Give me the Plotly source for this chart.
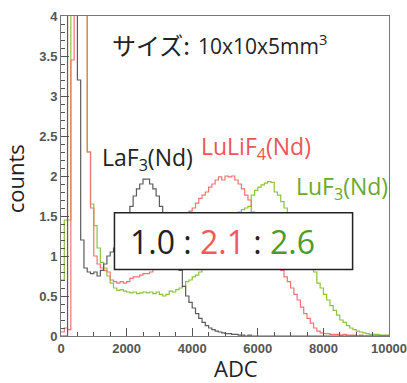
import plotly.graph_objects as go

bin_width = 100
bin_starts = [i * bin_width for i in range(100)]

laf3 = [0.0, 0.0, 5.0, 8.0, 8.0, 3.2, 1.2, 0.85, 0.8, 0.78,
        0.8, 0.75, 0.82, 0.9, 1.0, 1.05, 1.1, 1.2, 1.3, 1.4,
        1.5, 1.62, 1.75, 1.84, 1.9, 1.96, 1.96, 1.9, 1.84, 1.75,
        1.62, 1.5, 1.38, 1.25, 1.1, 0.95, 0.82, 0.62, 0.5, 0.42,
        0.35, 0.28, 0.22, 0.17, 0.13, 0.1, 0.08, 0.06, 0.05, 0.04,
        0.03, 0.03, 0.02, 0.02, 0.01, 0.01, 0.0, 0.01, 0.0, 0.0] + [0.0] * 40

lulif4 = [0.05, 0.1, 0.08, 3.45, 8.0, 8.0, 8.0, 8.0, 2.3, 1.6,
          1.0, 0.9, 0.85, 0.82, 0.8, 0.7, 0.68, 0.66, 0.68, 0.66,
          0.68, 0.72, 0.74, 0.74, 0.76, 0.78, 0.78, 0.8, 0.88, 0.95,
          1.02, 1.1, 1.18, 1.25, 1.3, 1.38, 1.42, 1.48, 1.52, 1.56,
          1.6, 1.66, 1.72, 1.76, 1.8, 1.86, 1.9, 1.95, 1.99, 1.95,
          2.0, 1.99, 2.0, 1.95, 1.9, 1.84, 1.76, 1.7, 1.55, 1.45,
          1.35, 1.25, 1.15, 1.05, 0.98, 0.92, 0.86, 0.82, 0.74, 0.68,
          0.6, 0.52, 0.45, 0.36, 0.28, 0.22, 0.16, 0.1, 0.06, 0.04,
          0.03, 0.03, 0.02, 0.02, 0.02, 0.01, 0.02, 0.01, 0.01, 0.01,
          0.0, 0.01, 0.0, 0.0, 0.0, 0.0, 0.0, 0.0, 0.0, 0.0]

luf3 = [0.7, 1.45, 1.45, 8.0, 8.0, 8.0, 8.0, 8.0, 2.3, 1.65,
        1.38, 1.1, 0.92, 0.85, 0.75, 0.66, 0.6, 0.57, 0.58, 0.56,
        0.55, 0.54, 0.55, 0.53, 0.54, 0.55, 0.54, 0.55, 0.53, 0.55,
        0.52, 0.5, 0.52, 0.56, 0.55, 0.58, 0.6, 0.62, 0.68, 0.7,
        0.74, 0.76, 0.8, 0.85, 0.9, 0.98, 1.05, 1.12, 1.2, 1.28,
        1.35, 1.42, 1.48, 1.5, 1.55, 1.58, 1.6, 1.62, 1.76, 1.82,
        1.86, 1.89, 1.91, 1.93, 1.92, 1.8, 1.76, 1.68, 1.6, 1.54,
        1.45, 1.35, 1.25, 1.15, 1.05, 0.95, 0.88, 0.8, 0.66, 0.6,
        0.52, 0.45, 0.38, 0.32, 0.26, 0.2, 0.17, 0.13, 0.1, 0.08,
        0.06, 0.05, 0.04, 0.03, 0.02, 0.02, 0.02, 0.01, 0.01, 0.01]

series_names = ["LaF3(Nd)", "LuLiF4(Nd)", "LuF3(Nd)"]
ratios = ["1.0", "2.1", "2.6"]
x_ticks = [0, 2000, 4000, 6000, 8000, 10000]
x_ticktext = ["0", "2000", "4000", "6000", "8000", "10000"]
y_ticks = [0, 0.5, 1, 1.5, 2, 2.5, 3, 3.5, 4]
y_ticktext = ["0", "0.5", "1", "1.5", "2", "2.5", "3", "3.5", "4"]

fig = go.Figure()

def step(vals):
    xs = bin_starts + [bin_starts[-1] + bin_width]
    ys = vals + [vals[-1]]
    return xs, ys

for vals, col, name in [(luf3, "#8cc43a", series_names[2]),
                        (lulif4, "#f27373", series_names[1]),
                        (laf3, "#5c5c5c", series_names[0])]:
    xs, ys = step(vals)
    fig.add_trace(go.Scatter(x=xs, y=ys, mode="lines", line_shape="hv",
                             line=dict(color=col, width=1.2), name=name,
                             showlegend=False, hoverinfo="skip"))

tickfont = dict(family="Liberation Sans", size=13, color="#555", weight="bold")
fig.update_layout(
    width=407, height=383,
    margin=dict(l=61, r=18, t=16, b=47, autoexpand=False),
    paper_bgcolor="white", plot_bgcolor="white",
    showlegend=False,
    xaxis=dict(range=[0, 10000], tickvals=x_ticks, ticktext=x_ticktext,
               ticks="inside", ticklen=8, tickcolor="#555", showgrid=False,
               zeroline=False, showline=True, mirror=True, linecolor="#777",
               linewidth=1, ticklabeloverflow="allow", automargin=False,
               minor=dict(dtick=500, ticks="inside", ticklen=4, tickcolor="#555"),
               tickfont=tickfont),
    yaxis=dict(range=[0, 4], tickvals=y_ticks, ticktext=y_ticktext,
               ticks="inside", ticklen=8, tickcolor="#555", showgrid=False,
               zeroline=False, showline=True, mirror=True, linecolor="#777",
               linewidth=1, automargin=False,
               minor=dict(dtick=0.1, ticks="inside", ticklen=4, tickcolor="#555"),
               tickfont=tickfont),
)

# ratio box
fig.add_shape(type="rect", xref="x", yref="y", x0=1630, x1=8890, y0=0.83, y1=1.54,
              fillcolor="white", line=dict(color="#222", width=1.5), layer="above")
fig.add_annotation(xref="x", yref="y", x=4910, y=(0.83 + 1.54) / 2,
                   xanchor="center", yanchor="middle",
                   text=f"{ratios[0]} : <span style='color:#f05a5a'>{ratios[1]}</span> : "
                        f"<span style='color:#4f9a2e'>{ratios[2]}</span>",
                   showarrow=False, font=dict(family="Open Sans", size=32, color="#222"))

# title
fig.add_annotation(xref="paper", yref="paper", x=0.148, y=0.91, xanchor="left",
                   yanchor="middle", text="サイズ:", showarrow=False,
                   font=dict(family="Noto Sans CJK JP", size=24, color="#222"))
fig.add_annotation(xref="paper", yref="paper", x=0.412, y=0.91, xanchor="left",
                   yanchor="middle", text="10x10x5mm<sup>3</sup>", showarrow=False,
                   font=dict(family="Open Sans", size=21, color="#222"))

# series labels
fig.add_annotation(xref="paper", yref="paper", x=0.118, y=0.555, xanchor="left",
                   yanchor="middle", text="LaF<sub>3</sub>(Nd)", showarrow=False,
                   font=dict(family="Open Sans", size=23, color="#222"))
fig.add_annotation(xref="paper", yref="paper", x=0.42, y=0.59, xanchor="left",
                   yanchor="middle", text="LuLiF<sub>4</sub>(Nd)", showarrow=False,
                   font=dict(family="Open Sans", size=23, color="#ee5555"))
fig.add_annotation(xref="paper", yref="paper", x=0.71, y=0.465, xanchor="left",
                   yanchor="middle", text="LuF<sub>3</sub>(Nd)", showarrow=False,
                   font=dict(family="Open Sans", size=23, color="#6aa832"))

# axis titles
fig.add_annotation(xref="paper", yref="paper", x=-0.14, y=0.49, xanchor="center",
                   yanchor="middle", text="counts", textangle=-90, showarrow=False,
                   font=dict(family="Open Sans", size=22, color="#222"))
fig.add_annotation(xref="paper", yref="paper", x=0.535, y=-0.1, xanchor="center",
                   yanchor="middle", text="ADC", showarrow=False,
                   font=dict(family="Open Sans", size=22, color="#222"))

fig.write_html("out.html")
